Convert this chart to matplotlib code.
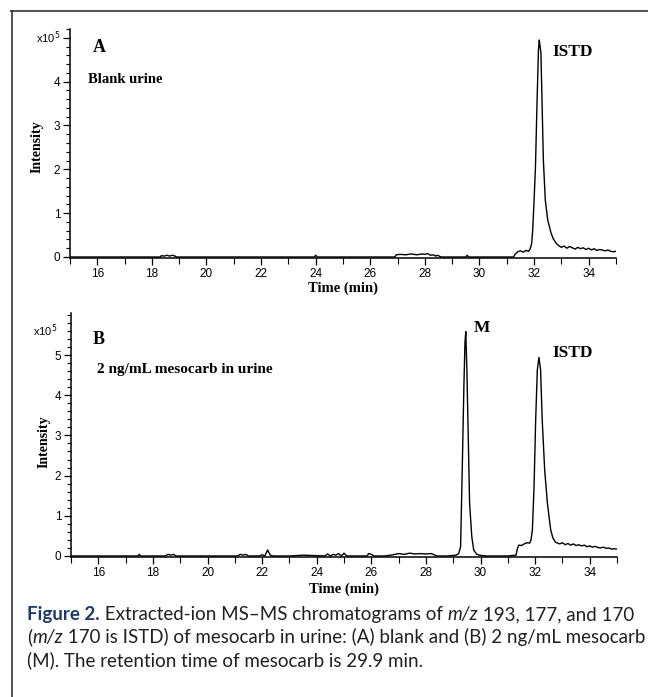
import numpy as np
import matplotlib.pyplot as plt
from matplotlib import font_manager
from matplotlib.lines import Line2D
from matplotlib.ticker import MultipleLocator

# chromatogram A: blank urine (intensity in units of 1e5)
time_a = [15.0, 16.0, 17.0, 18.0, 18.3, 18.35, 18.45, 18.55, 18.65, 18.75, 18.85,
          18.9, 19.5, 20.5, 21.5, 22.5, 23.5, 23.95, 24.0, 24.05, 24.5, 25.5, 26.5,
          26.9, 26.95, 27.1, 27.3, 27.5, 27.7, 27.9, 28.0, 28.1, 28.2, 28.3, 28.4,
          28.45, 28.6, 29.0, 29.5, 29.55, 29.6, 30.0, 30.5, 31.0, 31.25, 31.3, 31.4,
          31.5, 31.6, 31.7, 31.8, 31.85, 31.91, 31.95, 32.0, 32.05, 32.11, 32.16,
          32.19, 32.22, 32.25, 32.29, 32.34, 32.41, 32.5, 32.62, 32.7, 32.8, 32.9,
          33.0, 33.1, 33.2, 33.3, 33.4, 33.5, 33.6, 33.7, 33.8, 33.9, 34.0, 34.1,
          34.2, 34.3, 34.4, 34.5, 34.6, 34.7, 34.8, 34.9, 35.0]
int_a = [0.0, 0.0, 0.0, 0.0, 0.0, 0.03, 0.02, 0.04, 0.02, 0.04, 0.02,
         0.0, 0.0, 0.0, 0.0, 0.0, 0.0, 0.0, 0.04, 0.0, 0.0, 0.0, 0.0,
         0.0, 0.05, 0.06, 0.05, 0.07, 0.05, 0.07, 0.06, 0.08, 0.04, 0.05, 0.02,
         0.04, 0.0, 0.0, 0.0, 0.04, 0.0, 0.0, 0.0, 0.0, 0.0, 0.06, 0.12,
         0.14, 0.11, 0.15, 0.13, 0.18, 0.3, 0.62, 1.3, 2.05, 3.58, 4.73,
         4.95, 4.8, 4.66, 3.58, 2.21, 1.3, 0.84, 0.55, 0.42, 0.32, 0.26,
         0.22, 0.25, 0.2, 0.24, 0.21, 0.18, 0.22, 0.19, 0.21, 0.17, 0.2, 0.16,
         0.19, 0.15, 0.17, 0.16, 0.14, 0.16, 0.13, 0.12, 0.13]

# chromatogram B: 2 ng/mL mesocarb in urine
time_b = [15.0, 16.0, 17.0, 17.45, 17.5, 17.55, 18.0, 18.45, 18.55, 18.65, 18.75,
          18.85, 19.5, 20.5, 21.1, 21.2, 21.3, 21.4, 21.5, 21.9, 22.0, 22.1, 22.2,
          22.3, 22.4, 23.0, 23.5, 24.3, 24.4, 24.5, 24.6, 24.7, 24.8, 24.9, 25.0,
          25.1, 25.5, 25.85, 25.9, 26.0, 26.1, 26.5, 26.8, 27.0, 27.2, 27.4, 27.6,
          27.8, 28.0, 28.2, 28.3, 28.4, 28.8, 29.1, 29.2, 29.27, 29.33, 29.39,
          29.43, 29.46, 29.5, 29.55, 29.6, 29.68, 29.75, 29.85, 29.95, 30.2, 30.6,
          31.0, 31.3, 31.35, 31.4, 31.5, 31.6, 31.7, 31.8, 31.85, 31.9, 31.96,
          32.02, 32.08, 32.14, 32.2, 32.26, 32.35, 32.45, 32.57, 32.65, 32.75,
          32.9, 33.0, 33.1, 33.2, 33.3, 33.4, 33.5, 33.6, 33.7, 33.8, 33.9, 34.0,
          34.1, 34.2, 34.3, 34.4, 34.5, 34.6, 34.7, 34.8, 34.9, 35.0]
int_b = [0.0, 0.0, 0.0, 0.0, 0.04, 0.0, 0.0, 0.0, 0.04, 0.02, 0.04,
         0.0, 0.0, 0.0, 0.0, 0.04, 0.02, 0.04, 0.0, 0.0, 0.03, 0.0, 0.15,
         0.02, 0.0, 0.0, 0.02, 0.0, 0.05, 0.0, 0.04, 0.02, 0.06, 0.0, 0.07,
         0.0, 0.0, 0.0, 0.06, 0.04, 0.0, 0.0, 0.03, 0.06, 0.04, 0.07, 0.05,
         0.06, 0.05, 0.06, 0.03, 0.0, 0.0, 0.02, 0.06, 0.23, 2.14, 4.21,
         5.3, 5.58, 4.63, 2.97, 1.31, 0.48, 0.15, 0.05, 0.02, 0.0, 0.0,
         0.0, 0.02, 0.18, 0.27, 0.26, 0.3, 0.33, 0.32, 0.4, 0.65, 1.72,
         3.38, 4.63, 4.94, 4.63, 3.38, 2.14, 1.31, 0.65, 0.45, 0.34,
         0.3, 0.33, 0.28, 0.31, 0.27, 0.3, 0.26, 0.28, 0.25, 0.27, 0.23, 0.25,
         0.22, 0.24, 0.21, 0.2, 0.22, 0.19, 0.2, 0.17, 0.18, 0.17]

xticks = [16, 18, 20, 22, 24, 26, 28, 30, 32, 34]

names = {f.name for f in font_manager.fontManager.ttflist}
tick_font = 'Liberation Sans Narrow' if 'Liberation Sans Narrow' in names else 'Liberation Sans'
serif = 'Liberation Serif'
cap_font = 'Lato'

plt.rcParams['axes.linewidth'] = 1.1


def style_axes(ax, ymax, top_label):
    ax.set_xlim(15, 35)
    ax.set_ylim(-0.03, ymax)
    for s in ['top', 'right']:
        ax.spines[s].set_visible(False)
    ax.set_xticks(xticks)
    ax.xaxis.set_minor_locator(MultipleLocator(1))
    ax.set_yticks([0, 1, 2, 3, 4, 5])
    if top_label:
        ax.set_yticklabels(['0', '1', '2', '3', '4', ''])
    ax.yaxis.set_minor_locator(MultipleLocator(0.2))
    ax.tick_params(which='major', length=5, width=0.9, direction='out', pad=2)
    ax.tick_params(which='minor', length=3, width=0.8, direction='out')
    ax.tick_params(axis='x', which='minor', length=4)
    for lab in ax.get_xticklabels() + ax.get_yticklabels():
        lab.set_fontfamily(tick_font)
        lab.set_fontsize(8.5)
    ax.text(0.5, -0.13, 'Time (min)', transform=ax.transAxes, ha='center', va='center',
            family=serif, weight='bold', fontsize=10.5)


fig = plt.figure(figsize=(6.48, 6.97), dpi=100)

ax1 = fig.add_axes([0.108, 0.6294, 0.8426, 0.3289])
ax1.plot(time_a, int_a, color='black', lw=1.0)
style_axes(ax1, 5.2, True)
ax1.text(0.042, 0.918, 'A', transform=ax1.transAxes, va='center', family=serif,
         weight='bold', fontsize=13)
ax1.text(0.033, 0.778, 'Blank urine', transform=ax1.transAxes, va='center', family=serif,
         weight='bold', fontsize=10.5)
ax1.text(0.883, 0.901, 'ISTD', transform=ax1.transAxes, va='center', family=serif,
         weight='bold', fontsize=12.5)
ax1.text(-0.060, 0.487, 'Intensity', transform=ax1.transAxes, va='center', ha='center',
         rotation=90, family=serif, weight='bold', fontsize=10)
ax1.text(-0.018, 5.0, r'x10$^{5}$', transform=ax1.get_yaxis_transform(), ha='right',
         va='center', family=tick_font, fontsize=8)

ax2 = fig.add_axes([0.1096, 0.2006, 0.8426, 0.3506])
ax2.plot(time_b, int_b, color='black', lw=1.0)
style_axes(ax2, 6.05, False)
ax2.text(0.040, 0.889, 'B', transform=ax2.transAxes, va='center', family=serif,
         weight='bold', fontsize=13)
ax2.text(0.048, 0.766, '2 ng/mL mesocarb in urine', transform=ax2.transAxes, va='center',
         family=serif, weight='bold', fontsize=11)
ax2.text(0.738, 0.938, 'M', transform=ax2.transAxes, va='center', family=serif,
         weight='bold', fontsize=12.5)
ax2.text(0.881, 0.836, 'ISTD', transform=ax2.transAxes, va='center', family=serif,
         weight='bold', fontsize=12.5)
ax2.text(-0.049, 0.472, 'Intensity', transform=ax2.transAxes, va='center', ha='center',
         rotation=90, family=serif, weight='bold', fontsize=10)
ax2.text(-0.025, 5.6, r'x10$^{5}$', transform=ax2.get_yaxis_transform(), ha='right',
         va='center', family=tick_font, fontsize=8)

# frame around the figure (top and left only)
W, H = 648, 697
fig.add_artist(Line2D([11 / W, 1], [1 - 10.5 / H, 1 - 10.5 / H], color='#555555', lw=1.5))
fig.add_artist(Line2D([11.5 / W, 11.5 / W], [0, 1 - 10.5 / H], color='#333333', lw=1.2))

# caption, drawn piece by piece so that styles can mix
caption = [
    [('Figure 2.', 'bold', 'normal', '#1d3a6b'),
     (' Extracted-ion MS\u2013MS chromatograms of ', 'normal', 'normal', '#231f20'),
     ('m/z', 'normal', 'italic', '#231f20'),
     (' 193, 177, and 170', 'normal', 'normal', '#231f20')],
    [('(', 'normal', 'normal', '#231f20'),
     ('m/z', 'normal', 'italic', '#231f20'),
     (' 170 is ISTD) of mesocarb in urine: (A) blank and (B) 2 ng/mL mesocarb', 'normal',
      'normal', '#231f20')],
    [('(M). The retention time of mesocarb is 29.9 min.', 'normal', 'normal', '#231f20')],
]
baselines = [620, 643, 666]
renderer = fig.canvas.get_renderer()


def draw_line(parts, y_px, size):
    x = 27.0
    arts = []
    for txt, w, st, c in parts:
        t = fig.text(x / W, 1 - y_px / H, txt, family=cap_font, weight=w, style=st,
                     color=c, fontsize=size, va='baseline', ha='left')
        x += t.get_window_extent(renderer).width
        arts.append(t)
    return x, arts


# scale caption size so line 2 fills the width as in the print
end, arts = draw_line(caption[1], baselines[1], 12)
for a in arts:
    a.remove()
size = 12 * (641 - 27) / (end - 27)
for parts, yb in zip(caption, baselines):
    draw_line(parts, yb, size)

fig.savefig('out.png', dpi=100)
